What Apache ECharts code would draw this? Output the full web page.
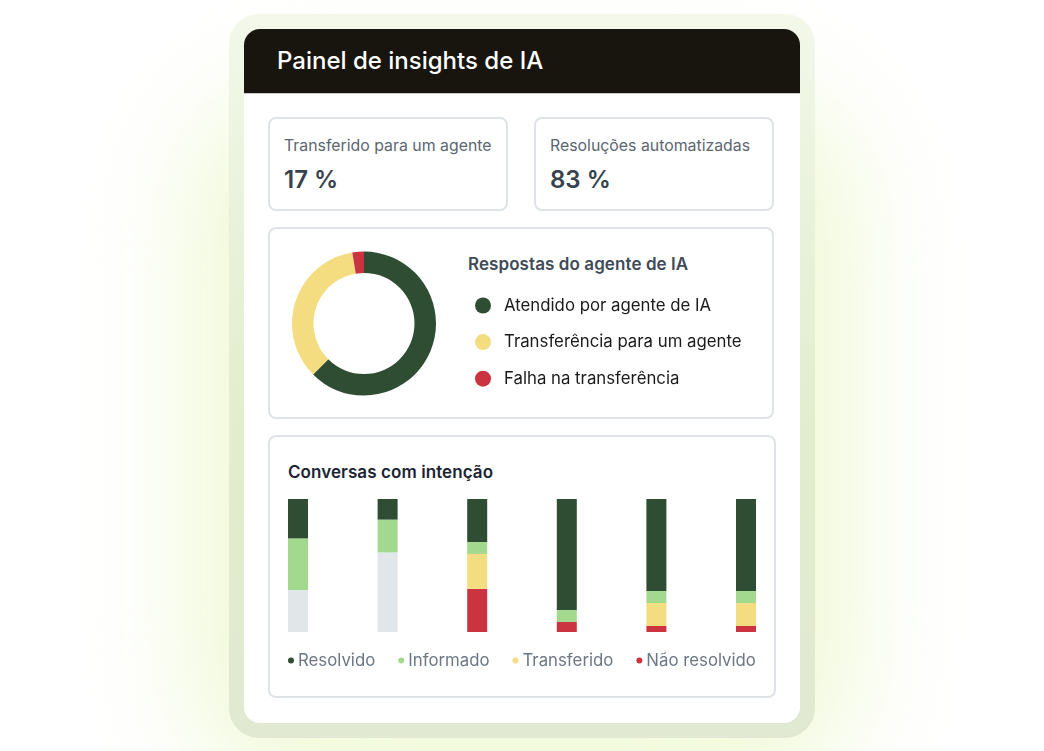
<!DOCTYPE html>
<html lang="pt">
<head>
<meta charset="utf-8">
<title>Painel de insights de IA</title>
<script src="https://cdn.jsdelivr.net/npm/echarts@6/dist/echarts.min.js"></script>
<style>
  html, body { margin: 0; padding: 0; width: 1044px; height: 751px; overflow: hidden; font-family: Inter, sans-serif; background: #fff; }
  .halo { position: absolute; left: 190px; top: 90px; width: 664px; height: 700px; border-radius: 120px; background: #f0f9d6; filter: blur(55px); }
  .glow { position: absolute; left: 229px; top: 14px; width: 586px; height: 724px; border-radius: 30px; background: linear-gradient(180deg, #f3f8ea 0%, #e8f2da 30%, #e1edcc 60%, #e1e9d2 100%); }
  .panel { position: absolute; left: 244px; top: 29px; width: 556px; height: 694px; border-radius: 16px; background: #fff; overflow: hidden; }
  .head { height: 65px; line-height: 64px; background: #17150e; color: #fff; font-size: 24px; font-weight: 500; padding-left: 33px; box-sizing: border-box; border-bottom: 1px solid #c9cbc9; }
  .card { position: absolute; box-sizing: border-box; border: 2px solid #dfe3e8; border-radius: 8px; background: #fff; }
  .label { position: absolute; left: 284px; top: 136px; font-size: 15.85px; line-height: 20px; color: #5c6670; }
  .num { position: absolute; top: 165px; font-size: 24px; line-height: 30px; font-weight: 600; color: #36424c; }
  .sub { position: absolute; font-size: 17px; line-height: 20px; font-weight: 600; letter-spacing: .08px; color: #3f4b56; }
  #chart { position: absolute; left: 0; top: 0; width: 1044px; height: 751px; }
</style>
</head>
<body>
<div class="halo"></div>
<div class="glow"></div>
<div class="panel"><div class="head">Painel de insights de IA</div></div>
<div class="card" style="left:268px;top:117px;width:240px;height:94px"></div>
<div class="card" style="left:534px;top:117px;width:240px;height:94px"></div>
<div class="card" style="left:268px;top:227px;width:506px;height:192px"></div>
<div class="card" style="left:268px;top:435px;width:508px;height:263px"></div>
<div class="label">Transferido para um agente</div>
<div class="num" style="left:284px">17 %</div>
<div class="label" style="left:550px">Resoluções automatizadas</div>
<div class="num" style="left:550px">83 %</div>
<div class="sub" style="left:468px;top:254px">Respostas do agente de IA</div>
<div class="sub" style="left:288px;top:462px;color:#1c2433">Conversas com intenção</div>
<div id="chart"></div>
<script>
  // respostas do agente (%)
  const respostasNomes = ['Atendido por agente de IA', 'Transferência para um agente', 'Falha na transferência'];
  const respostasValores = [62.5, 34.9, 2.6];
  const respostasCores = ['#2e4d33', '#f4dc80', '#cc3340'];

  // conversas com intenção (% de cada barra)
  const intencoes = ['1', '2', '3', '4', '5', '6'];
  const resolvido = [29.6, 15.5, 32.3, 83.5, 69.2, 69.2];
  const informado = [38.8, 24.6, 9, 9, 9, 9];
  const transferido = [0, 0, 26.3, 0, 17.3, 17.3];
  const naoResolvido = [0, 0, 32.4, 7.5, 4.5, 4.5];
  const semDados = [31.6, 59.9, 0, 0, 0, 0];

  const chart = echarts.init(document.getElementById('chart'));

  function barra(name, data, color) {
    return { name, type: 'bar', stack: 'total', barWidth: 20, data, itemStyle: { color }, silent: true };
  }

  chart.setOption({
    animation: false,
    textStyle: { fontFamily: 'Inter' },
    legend: [
      {
        data: respostasNomes,
        orient: 'vertical',
        left: 475,
        top: 297,
        icon: 'circle',
        itemWidth: 16,
        itemHeight: 16,
        itemGap: 19.6,
        padding: 0,
        selectedMode: false,
        textStyle: { fontSize: 16.8, color: '#1a1a1a', padding: [0, 0, 0, 8] }
      },
      {
        data: ['Resolvido', 'Informado', 'Transferido', 'Não resolvido'],
        left: 288,
        top: 652,
        icon: 'circle',
        itemWidth: 6,
        itemHeight: 6,
        itemGap: 23,
        padding: 0,
        selectedMode: false,
        textStyle: { fontSize: 16.8, color: '#6b7785', padding: [0, 0, 0, -1] }
      }
    ],
    grid: { left: 298, top: 499, width: 448, height: 133 },
    xAxis: { type: 'category', data: intencoes, boundaryGap: false, show: false },
    yAxis: { type: 'value', min: 0, max: 100, show: false },
    series: [
      {
        name: 'Respostas do agente de IA',
        type: 'pie',
        center: [364, 323.5],
        radius: [50.5, 72],
        startAngle: 90,
        silent: true,
        label: { show: false },
        labelLine: { show: false },
        data: respostasNomes.map((name, i) => ({ name, value: respostasValores[i], itemStyle: { color: respostasCores[i] } }))
      },
      barra('Sem dados', semDados, '#e1e6e9'),
      barra('Não resolvido', naoResolvido, '#cc3340'),
      barra('Transferido', transferido, '#f4dc80'),
      barra('Informado', informado, '#a3d98e'),
      barra('Resolvido', resolvido, '#2e4d33')
    ]
  });
</script>
</body>
</html>
